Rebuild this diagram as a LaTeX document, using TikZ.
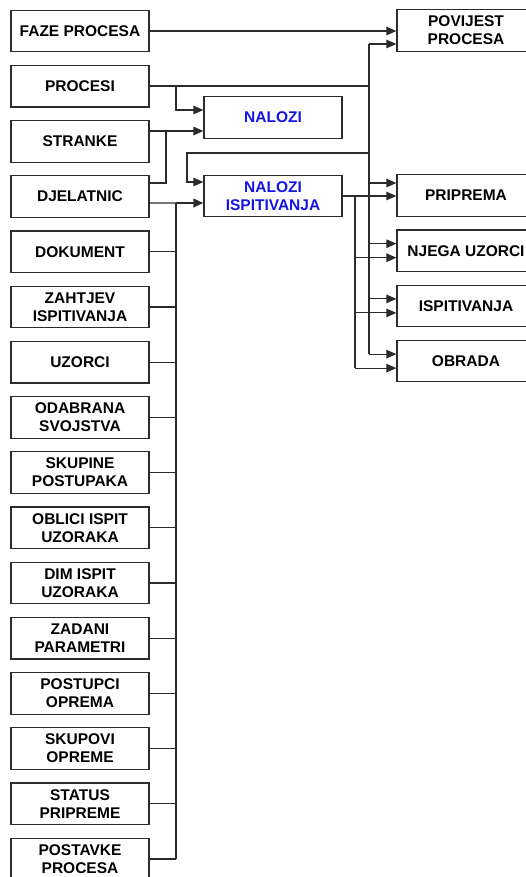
\documentclass[tikz,border=0pt]{standalone}
\usepackage{fontspec}
\setmainfont{Liberation Sans}
\usetikzlibrary{arrows.meta, calc}
\definecolor{nalBlue}{HTML}{1414E8}
\definecolor{lineDark}{HTML}{2B2B2B}
\tikzset{
  boxL/.style={rectangle, draw=lineDark, line width=1.2pt, minimum width=138pt,
               minimum height=41.5pt, inner sep=0pt, align=center,
               font=\fontsize{15.5}{18}\selectfont\bfseries},
  boxN/.style={boxL, text=nalBlue},
  wire/.style={lineDark, line width=1.1pt},
  wireB/.style={lineDark, line width=2.2pt},
  arrowN/.style={wire, -{Triangle[length=10pt, width=8.5pt]}},
  arrowB/.style={wireB, -{Triangle[length=10pt, width=8.5pt]}},
}
\begin{document}
\begin{tikzpicture}[x=1pt, y=-1pt]
    \useasboundingbox (0,0) rectangle (526,877);
    \clip (0,0) rectangle (526,877);
    % lijevi stupac
    \foreach \i/\w in {0/FAZE PROCESA, 1/PROCESI, 2/STRANKE, 3/DJELATNIC,
        4/DOKUMENT, 5/{ZAHTJEV\\ISPITIVANJA}, 6/UZORCI, 7/{ODABRANA\\SVOJSTVA},
        8/{SKUPINE\\POSTUPAKA}, 9/{OBLICI ISPIT\\UZORAKA}, 10/{DIM ISPIT\\UZORAKA},
        11/{ZADANI\\PARAMETRI}, 12/{POSTUPCI\\OPREMA}, 13/{SKUPOVI\\OPREME},
        14/{STATUS\\PRIPREME}, 15/{POSTAVKE\\PROCESA}} {
      \node[boxL] (lb\i) at (80, {31+55.2*\i}) {\w};
    }
    % nalozi
    \node[boxN] (nal) at (273,117.5) {NALOZI};
    \node[boxN] (nali) at (273,196) {NALOZI\\ISPITIVANJA};
    % desni stupac
    \node[boxL] (pov) at (466,30.5) {POVIJEST\\PROCESA};
    \foreach \j/\n/\w in {0/pri/PRIPREMA, 1/nje/NJEGA UZORCI, 2/isp/ISPITIVANJA, 3/obr/OBRADA} {
      \node[boxL] (\n) at (466, {195.5+55.2*\j}) {\w};
    }
    % tocke vodova
    \coordinate (busTop) at (176,203);
    \coordinate (rbTop) at (369,44);
    \coordinate (nbTop) at (355,196);
    \coordinate (sj) at (166,131);
    \coordinate (lp) at (187,153);
    % faze procesa i procesi -> povijest
    \draw[arrowN] (lb0.east) -- (lb0.east -| pov.west);
    \draw[wireB] (lb1.east) -- (lb1.east -| rbTop);
    \draw[wire] (rbTop) -- ([yshift=7pt]obr.west -| rbTop);
    \draw[arrowN] (rbTop) -- (rbTop -| pov.west);
    % procesi, stranke, djelatnici -> nalozi
    \draw[arrowN] (lb1.east -| busTop) |- ([yshift=7.5pt]nal.west);
    \draw[arrowN] ([yshift=10.4pt]lb2.east) -- ([yshift=10.4pt]lb2.east -| nal.west);
    \draw[wire] ([yshift=13.6pt]lb3.east) -| (sj);
    \draw[wire] ([yshift=-6.4pt]lb3.east) -- (busTop);
    \draw[arrowB] (busTop) -- (busTop -| nali.west);
    % povratna veza
    \draw[arrowN] (lp -| rbTop) -- (lp) |- ([yshift=14pt]nali.west);
    % sabirnica
    \draw[wireB] (busTop) -- (lb15.east -| busTop);
    \foreach \i in {4,...,15} { \draw[wire] (lb\i.east) -- (lb\i.east -| busTop); }
    % prema desnom stupcu
    \draw[arrowN] (nali.east) -- (nali.east -| pri.west);
    \draw[wire] (nbTop) -- ([yshift=-7pt]obr.west -| nbTop);
    \draw[arrowN] ([yshift=12.5pt]pri.west -| rbTop) -- ([yshift=12.5pt]pri.west);
    \foreach \n in {nje,isp,obr} {
      \draw[arrowN] ([yshift=7pt]\n.west -| rbTop) -- ([yshift=7pt]\n.west);
      \draw[arrowN] ([yshift=-7pt]\n.west -| nbTop) -- ([yshift=-7pt]\n.west);
    }
  \end{tikzpicture}
\end{document}
